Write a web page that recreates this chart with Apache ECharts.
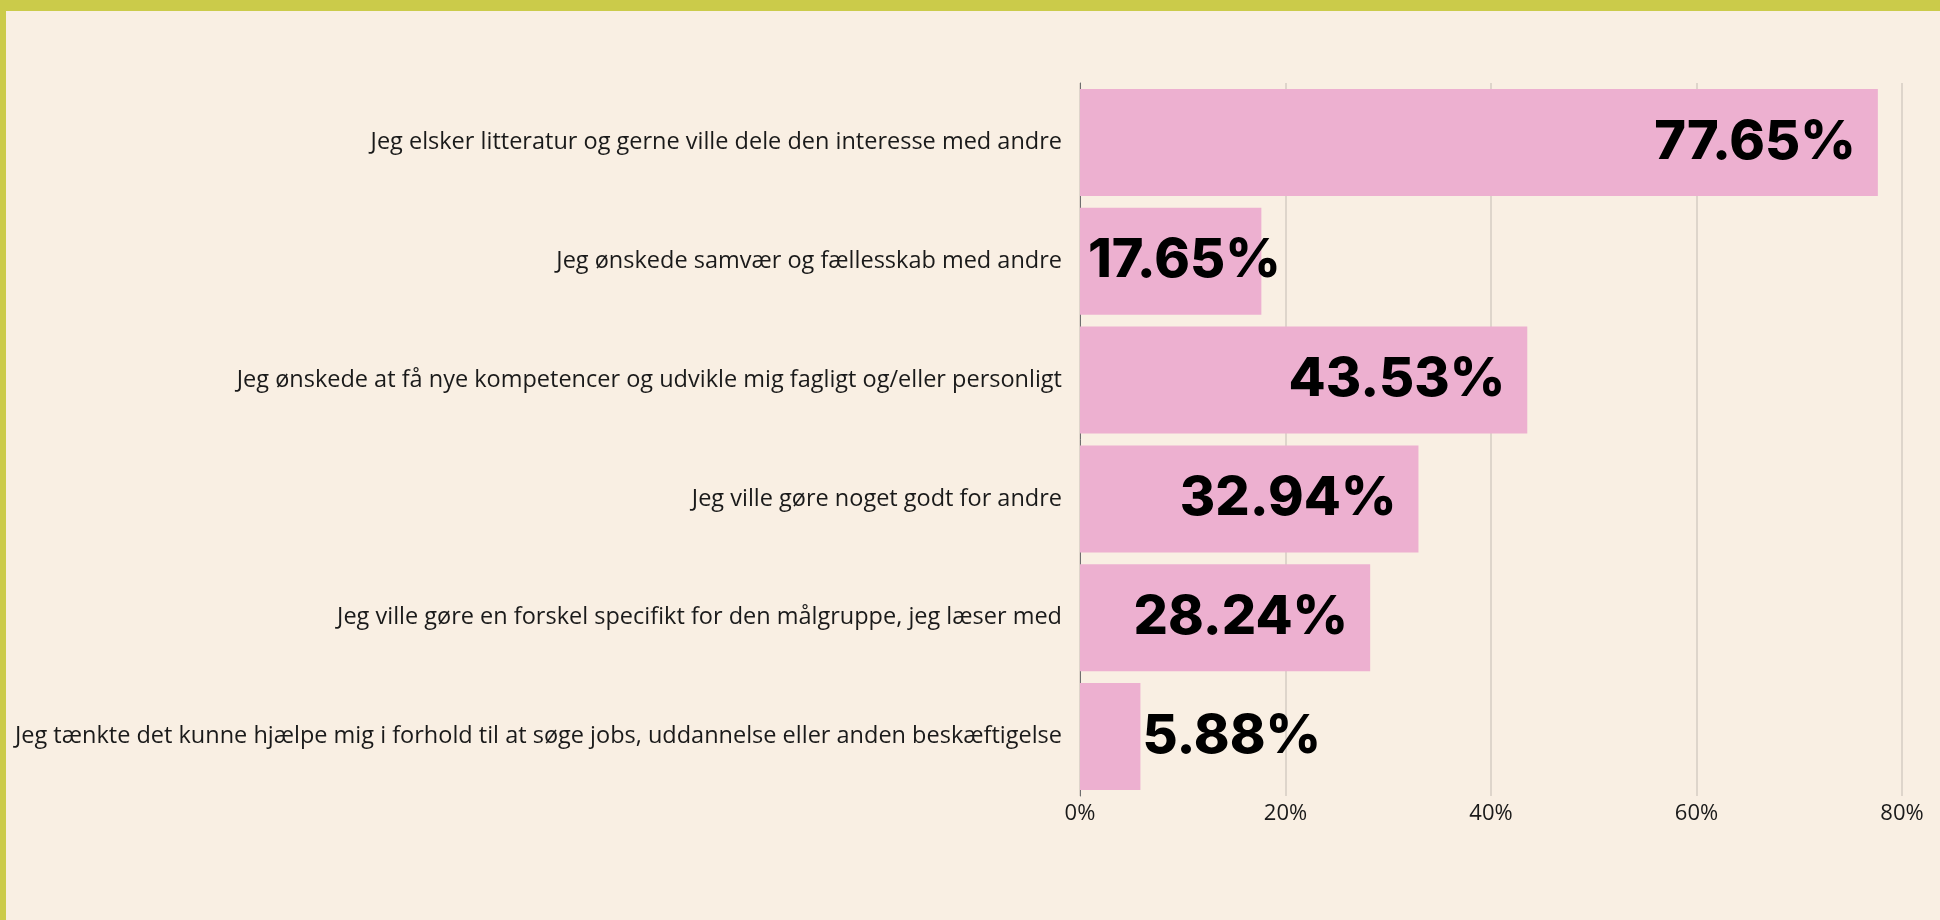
<!DOCTYPE html>
<html>
<head>
<meta charset="utf-8">
<script src="https://cdn.jsdelivr.net/npm/echarts@6/dist/echarts.min.js"></script>
<style>
    html, body { margin: 0; padding: 0; background: #f9efe3; }
    .frame-top { position: absolute; left: 0; top: 0; width: 1940px; height: 11px; background: #cbcb4a; }
    .frame-left { position: absolute; left: 0; top: 0; width: 6px; height: 920px; background: #cbcb4a; }
    #chart { position: absolute; left: 0; top: 0; width: 1940px; height: 920px; }
</style>
</head>
<body>
<div id="chart"></div>
<div class="frame-top"></div>
<div class="frame-left"></div>
<script>
// data
const categories = [
    'Jeg elsker litteratur og gerne ville dele den interesse med andre',
    'Jeg ønskede samvær og fællesskab med andre',
    'Jeg ønskede at få nye kompetencer og udvikle mig fagligt og/eller personligt',
    'Jeg ville gøre noget godt for andre',
    'Jeg ville gøre en forskel specifikt for den målgruppe, jeg læser med',
    'Jeg tænkte det kunne hjælpe mig i forhold til at søge jobs, uddannelse eller anden beskæftigelse',
];
const values = [77.65, 17.65, 43.53, 32.94, 28.24, 5.88];
const xTicks = { min: 0, max: 80, interval: 20 };

const FONT = '"Open Sans", "DejaVu Sans", sans-serif';
const BOLD_FONT = 'Inter, "DejaVu Sans", sans-serif';

// label sits inside the bar when it fits, otherwise starts at the axis or after the bar
const labelPos = (v) => (v > 25 ? 'insideRight' : v > 10 ? 'insideLeft' : 'right');
const labelGap = { insideRight: 22, insideLeft: 8, right: 2 };

const myChart = echarts.init(document.getElementById('chart'));
myChart.setOption({
    animation: false,
    grid: {
        left: 1080,
        right: 38,
        top: 83,
        bottom: 124,
    },
    xAxis: {
        type: 'value',
        min: xTicks.min,
        max: xTicks.max,
        interval: xTicks.interval,
        axisLine: { show: false },
        axisTick: { show: false },
        splitLine: {
            lineStyle: { color: '#d4ccc3', width: 1.5 },
        },
        axisLabel: {
            color: '#1a1a1a',
            fontFamily: FONT,
            fontSize: 22,
            margin: 7,
            formatter: '{value}%',
        },
    },
    yAxis: {
        type: 'category',
        inverse: true,
        data: categories,
        axisLine: {
            show: true,
            lineStyle: { color: '#6e6e6e', width: 1 },
        },
        axisTick: { show: false },
        axisLabel: {
            color: '#1a1a1a',
            fontFamily: FONT,
            fontSize: 23.5,
            margin: 18,
        },
    },
    series: [
        {
            type: 'bar',
            barCategoryGap: '10%',
            itemStyle: { color: '#edb0d0' },
            data: values.map((v) => ({
                value: v,
                label: {
                    show: true,
                    position: labelPos(v),
                    distance: labelGap[labelPos(v)],
                },
            })),
            label: {
                formatter: (p) => p.value.toFixed(2) + '%',
                color: '#000',
                fontFamily: BOLD_FONT,
                fontWeight: 800,
                fontSize: 54,
            },
        },
    ],
});
window.addEventListener('resize', () => myChart.resize());
</script>
</body>
</html>
